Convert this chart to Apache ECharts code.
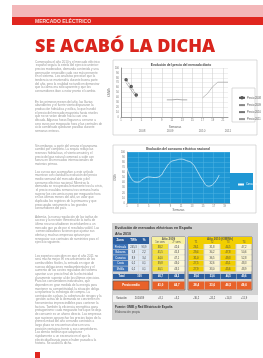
<!DOCTYPE html>
<html>
<head>
<meta charset="utf-8">
<script src="https://cdn.jsdelivr.net/npm/echarts@6/dist/echarts.min.js"></script>
<style>
    html, body { margin: 0; padding: 0; background: #fff; }
    #main { width: 263px; height: 358px; }
</style>
</head>
<body>
<div id="main"></div>
<script>
    // --- datos grafico 1: precio semanal
    var semanas = ['1','2','3','4','5','6','7','8','9','10','11','12','13','14','15','16','17','18','19','20','21','22'];
    var precioA = [null, 76, 62, 45, null, null, null, null, null, null, null, null, null, null, null, null, null, null, null, null, null, null];
    var precioB = [null, 70, 55, 40, null, null, null, null, null, null, null, null, null, null, null, null, null, null, null, null, null, null];
    var precioC = [null, null, null, null, null, null, null, null, null, 35, 35, 36, 35, 35, null, null, null, null, null, null, null, null];
    var precioD = [null, null, null, null, null, null, null, null, null, null, null, null, null, null, null, null, 39, 48, 62, 71, 71, 71];
    var anios = ['2008', '2009', '2010', '2011'];

    // --- datos grafico 2: consumo
    var meses = ['1','2','3','4','5','6','7','8','9','10','11','12','13','14','15','16','17','18','19','20'];
    var consumo = [69, 45, 41, 47, 51, 50, 52, 66, 80, 84, 86, 83, 78, 62, 44, 33, 38, 55, null, null];

    // --- datos tabla
    var zonas = ['Península', 'Baleares', 'Canarias', 'Ceuta', 'Melilla'];
    var demanda = ['245,3', '5,8', '8,9', '0,2', '0,2'];
    var cuota = ['93,9', '2,2', '3,4', '0,1', '0,1'];
    var sem1 = ['38,2', '41,5', '44,0', '39,8', '40,1'];
    var sem2 = ['42,6', '45,3', '47,1', '43,0', '43,5'];
    var trim1 = ['26,1', '29,4', '31,0', '27,5', '27,9'];
    var trim2 = ['31,8', '34,2', '36,5', '32,6', '33,0'];
    var trim3 = ['44,5', '47,8', '49,3', '45,1', '45,6'];
    var trim4 = ['47,2', '50,6', '52,8', '48,3', '48,9'];
    var totales = ['260,4', '100', '40,7', '44,3', '29,4', '33,6', '46,5', '49,6'];
    var medias = ['Media', '', '41,0', '44,7', '28,4', '33,6', '46,5', '49,6'];
    var variacion = ['Variación', '2010/09', '+8,1', '+3,2', '-30,2', '-24,2', '+14,3', '+11,9'];

    var parrafos = [
        'Comenzaba el año 2010 y el mercado eléctrico español seguía la estela del ejercicio anterior: precios moderados, demanda contenida y una generación renovable cada vez más presente en el sistema. Los analistas preveían que la tendencia se mantendría durante buena parte del año, pero la realidad no tardó en demostrar que la calma era sólo aparente y que los consumidores iban a notar pronto el cambio.',
        'En los primeros meses del año, las lluvias abundantes y el fuerte viento dispararon la producción hidráulica y eólica, lo que hundió el precio del mercado mayorista hasta niveles que no se veían desde hacía casi una década. Algunas horas llegaron a cerrarse a cero euros por megavatio hora y las centrales de ciclo combinado quedaron paradas durante semanas enteras.',
        'Sin embargo, a partir del verano el panorama cambió por completo. La sequía redujo las reservas hidráulicas, el viento amainó y el precio del gas natural comenzó a subir con fuerza en los mercados internacionales de materias primas.',
        'Las curvas que acompañan a este artículo muestran con claridad la evolución del precio medio semanal del mercado diario y del consumo eléctrico nacional. Mientras la demanda se recuperaba lentamente tras la crisis, el precio escalaba semana tras semana hasta superar los cincuenta euros por megavatio hora en los últimos meses del año, un valor que duplicaba los registros de la primavera y que preocupaba seriamente a los grandes consumidores del país.',
        'Además, la nueva regulación de las tarifas de acceso y la revisión trimestral de la tarifa de último recurso añadieron incertidumbre a un mercado que ya de por sí resultaba volátil. Las comercializadoras tuvieron que ajustar sus ofertas y muchas empresas optaron por renegociar sus contratos de suministro para el ejercicio siguiente.',
        'Los expertos coinciden en que el año 2011 no será mucho mejor. El encarecimiento de los combustibles fósiles, la entrada en vigor de nuevas obligaciones medioambientales y el aumento de los costes regulados del sistema apuntan a un precio final de la electricidad claramente superior al de los últimos ejercicios. Para los consumidores industriales, que dependen en gran medida de la energía para mantener su competitividad, la situación obliga a replantear la estrategia de compra. La contratación a plazo, la cobertura de riesgos y la gestión activa de la demanda se convierten en herramientas imprescindibles para contener la factura. También la eficiencia energética gana protagonismo: cada megavatio hora que se deja de consumir es un ahorro directo. Las empresas que supieron aprovechar los precios bajos de la primera mitad del año cerrando contratos a largo plazo se encuentran ahora en una posición ventajosa frente a sus competidores. Las demás tendrán que adaptarse rápidamente a un escenario en el que la electricidad barata parece haber pasado a la historia. Se acabó la dicha.'
    ];
    var parrafoY = [60, 100, 144, 170, 215, 254];

    var chart = echarts.init(document.getElementById('main'));
    var FONT = 'Liberation Sans';

    var g = [];
    function rect(x, y, w, h, fill, stroke, z) {
        g.push({
            type: 'rect', silent: true, z: z || 0,
            shape: { x: x, y: y, width: w, height: h },
            style: { fill: fill, stroke: stroke || null, lineWidth: stroke ? 0.6 : 0 }
        });
    }
    function txt(x, y, s, size, color, bold, align) {
        g.push({
            type: 'text', silent: true, x: x, y: y,
            style: {
                text: s, fontSize: size, fill: color, fontFamily: FONT,
                fontWeight: bold ? 'bold' : 'normal',
                align: align || 'left', verticalAlign: 'middle'
            }
        });
    }

    // cabecera
    rect(12, 5, 251, 12, '#f3b7b9');
    rect(12, 17, 251, 8, '#e0261f');
    txt(35, 21.5, 'MERCADO ELÉCTRICO', 5, '#f8d6d4', true);
    g.push({
        type: 'text', silent: true, x: 35, y: 47,
        style: { text: 'SE ACABÓ LA DICHA', fontSize: 18, fill: '#d9251d', fontFamily: 'Open Sans', fontWeight: 800, verticalAlign: 'middle' }
    });

    // texto
    for (var i = 0; i < parrafos.length; i++) {
        g.push({
            type: 'text', silent: true, x: 35, y: parrafoY[i],
            style: {
                text: parrafos[i], width: 68, overflow: 'break',
                fontSize: 3.1, lineHeight: 3.65, fill: '#999', fontFamily: FONT
            }
        });
    }
    rect(35, 352, 5, 6, '#e0261f');

    // cajas de graficos
    rect(113, 60, 144, 75, '#fff', '#c4c4c4', -5);
    txt(181, 65, 'Evolución del precio del mercado diario', 3.2, '#444', true, 'center');
    txt(175, 127, 'Semanas', 3, '#666', false, 'center');
    var anioX = [142, 170, 202, 228];
    for (var i = 0; i < anios.length; i++) {
        txt(anioX[i], 131, anios[i], 3, '#777', false, 'center');
    }
    rect(232, 88, 23, 34, '#fff', '#c4c4c4', -1);

    rect(113, 145, 143, 68, '#fff', '#c4c4c4', -5);
    txt(178, 149, 'Evolución del consumo eléctrico nacional', 3.2, '#444', true, 'center');
    rect(230, 173, 23, 17, '#1f97d4', null, -1);

    // tabla
    rect(112, 223, 146, 97, '#d2d2d2');
    txt(115, 228, 'Evolución de mercados eléctricos en España', 3.6, '#333', true);
    txt(115, 234, 'Año 2010', 3.6, '#333', true);

    var rowY = 244, rowH = 5.6;
    // bloque azul
    rect(113, 237, 36, 7, '#2d5e9e');
    txt(120, 240.5, 'Zona', 3, '#fff', true, 'center');
    txt(133.5, 240.5, 'TWh', 3, '#fff', true, 'center');
    txt(144, 240.5, '%', 3, '#fff', true, 'center');
    // bloque 1 y 2
    rect(152, 237, 33, 53, null, '#555');
    rect(188, 237, 64, 53, null, '#555');
    rect(152, 237, 33, 4, '#f7f0a0');
    txt(168.5, 239, 'Año 2009', 3, '#555', true, 'center');
    rect(188, 237, 64, 4, '#f2cf00');
    txt(220, 239, 'Año 2010 (€/MWh)', 3, '#555', true, 'center');
    var cabB1 = ['1er sem.', '2º sem.'];
    var cabB2 = ['T1', 'T2', 'T3', 'T4'];
    var colB1 = [152, 168.5];
    var colB2 = [188, 204, 220, 236];
    for (var k = 0; k < 2; k++) {
        rect(colB1[k], 241, 16.5, 3, '#f7f0a0');
        txt(colB1[k] + 8.25, 242.5, cabB1[k], 2.6, '#555', false, 'center');
    }
    for (var k = 0; k < 4; k++) {
        rect(colB2[k], 241, 16, 3, '#f2cf00');
        txt(colB2[k] + 8, 242.5, cabB2[k], 2.6, '#555', false, 'center');
    }
    var colsB1 = [sem1, sem2];
    var colsB2 = [trim1, trim2, trim3, trim4];
    for (var r = 0; r < zonas.length; r++) {
        var y = rowY + r * rowH;
        var cy = y + rowH / 2;
        rect(113, y, 15, rowH - 0.6, '#3d73b8');
        rect(128.5, y, 10, rowH - 0.6, '#dfe8f3');
        rect(139, y, 10, rowH - 0.6, '#dfe8f3');
        txt(120.5, cy, zonas[r], 2.6, '#fff', false, 'center');
        txt(133.5, cy, demanda[r], 2.6, '#444', false, 'center');
        txt(144, cy, cuota[r], 2.6, '#444', false, 'center');
        for (var k = 0; k < 2; k++) {
            rect(colB1[k] + 0.5, y, 15.5, rowH - 0.6, k === 0 ? '#f4e03a' : '#fbf7d8');
            txt(colB1[k] + 8.25, cy, colsB1[k][r], 2.6, '#444', false, 'center');
        }
        for (var k = 0; k < 4; k++) {
            rect(colB2[k] + 0.5, y, 15, rowH - 0.6, k % 2 === 0 ? '#f2cf00' : '#fbf4d0');
            txt(colB2[k] + 8, cy, colsB2[k][r], 2.6, '#444', false, 'center');
        }
    }
    // filas resumen
    var sumX = [113, 130, 152.5, 169, 188.5, 204.5, 220.5, 236.5];
    var sumW = [17, 19, 16, 15.5, 15.5, 15.5, 15.5, 15];
    for (var k = 0; k < totales.length; k++) {
        rect(sumX[k], 274, sumW[k], 5, '#2d5e9e');
        txt(sumX[k] + sumW[k] / 2, 276.5, k === 0 ? 'Total' : totales[k], 2.6, '#fff', true, 'center');
    }
    rect(113, 281, 36, 9, '#e8622a', '#555');
    for (var k = 2; k < medias.length; k++) {
        rect(sumX[k], 281.5, sumW[k], 8, '#e8622a');
        txt(sumX[k] + sumW[k] / 2, 285.5, medias[k], 2.8, '#fff', true, 'center');
    }
    txt(131, 285.5, 'Precio medio', 2.8, '#fff', true, 'center');
    rect(113, 295, 145, 7, '#f4f4f4');
    for (var k = 0; k < variacion.length; k++) {
        txt(sumX[k] + sumW[k] / 2, 298.5, variacion[k], 2.6, '#444', false, 'center');
    }
    txt(115, 307, 'Fuente: OMIE y Red Eléctrica de España', 3, '#333', true);
    txt(115, 312, 'Elaboración propia', 3, '#555', false);

    var axisTxt = { fontSize: 2.6, color: '#777', fontFamily: FONT, margin: 2 };

    var option = {
        animation: false,
        backgroundColor: '#fff',
        graphic: { elements: g },
        legend: [{
            left: 233, top: 91, orient: 'vertical', itemGap: 4,
            itemWidth: 6, itemHeight: 2,
            textStyle: { fontSize: 2.6, color: '#555', fontFamily: FONT, padding: [0, 0, 0, -3] },
            data: ['Precio 2008', 'Precio 2009', 'Precio 2010', 'Precio 2011']
        }, {
            left: 232, top: 178, orient: 'vertical', itemGap: 3,
            itemWidth: 6, itemHeight: 2,
            textStyle: { fontSize: 2.6, color: '#fff', fontFamily: FONT, padding: [0, 0, 0, -3] },
            data: ['Consumo 2010']
        }],
        grid: [
            { left: 121, top: 68, width: 107, height: 49 },
            { left: 127, top: 152, width: 103, height: 51, show: true, backgroundColor: '#1f97d4', borderWidth: 0 }
        ],
        xAxis: [{
            gridIndex: 0, type: 'category', data: semanas, boundaryGap: false,
            axisLine: { lineStyle: { color: '#666', width: 0.6 } },
            axisTick: { show: false },
            axisLabel: axisTxt,
            splitLine: { show: true, lineStyle: { color: '#c8c8c8', width: 0.5 } }
        }, {
            gridIndex: 1, type: 'category', data: meses, boundaryGap: false,
            axisLine: { lineStyle: { color: '#888', width: 0.6 } },
            axisTick: { show: false },
            axisLabel: axisTxt,
            name: 'Semanas', nameLocation: 'middle', nameGap: 6,
            nameTextStyle: { fontSize: 2.8, color: '#666', fontFamily: FONT },
            splitLine: { show: true, lineStyle: { color: '#4fb2e2', width: 0.5 } }
        }],
        yAxis: [{
            gridIndex: 0, type: 'value', min: 0, max: 100, interval: 10,
            axisLine: { show: true, lineStyle: { color: '#666', width: 0.6 } },
            axisLabel: axisTxt,
            name: '€/MWh', nameLocation: 'middle', nameGap: 5, nameRotate: 90,
            nameTextStyle: { fontSize: 2.8, color: '#666', fontFamily: FONT },
            splitLine: { lineStyle: { color: '#dedede', width: 0.5 } }
        }, {
            gridIndex: 1, type: 'value', min: 0, max: 100, interval: 10,
            axisLine: { show: true, lineStyle: { color: '#888', width: 0.6 } },
            axisLabel: axisTxt,
            name: 'GWh', nameLocation: 'middle', nameGap: 6, nameRotate: 90,
            nameTextStyle: { fontSize: 2.8, color: '#666', fontFamily: FONT },
            splitLine: { lineStyle: { color: '#4fb2e2', width: 0.5 } }
        }],
        series: [{
            name: 'Precio 2008', type: 'line', xAxisIndex: 0, yAxisIndex: 0, data: precioA,
            symbol: 'emptyCircle', symbolSize: 1.5, itemStyle: { color: '#555' },
            lineStyle: { color: '#555', width: 0.6, type: 'dashed' }
        }, {
            name: 'Precio 2009', type: 'line', xAxisIndex: 0, yAxisIndex: 0, data: precioB,
            symbol: 'none', itemStyle: { color: '#888' },
            lineStyle: { color: '#888', width: 0.6 }
        }, {
            name: 'Precio 2010', type: 'line', xAxisIndex: 0, yAxisIndex: 0, data: precioC,
            symbol: 'none', itemStyle: { color: '#777' },
            lineStyle: { color: '#777', width: 0.6 }
        }, {
            name: 'Precio 2011', type: 'line', xAxisIndex: 0, yAxisIndex: 0, data: precioD,
            symbol: 'none', itemStyle: { color: '#999' },
            lineStyle: { color: '#999', width: 0.6 }
        }, {
            name: 'Consumo 2010', type: 'line', xAxisIndex: 1, yAxisIndex: 1, data: consumo,
            smooth: true, symbol: 'none', itemStyle: { color: '#fff' },
            lineStyle: { color: '#e6f4fb', width: 0.7 }
        }]
    };
    chart.setOption(option);
</script>
</body>
</html>
